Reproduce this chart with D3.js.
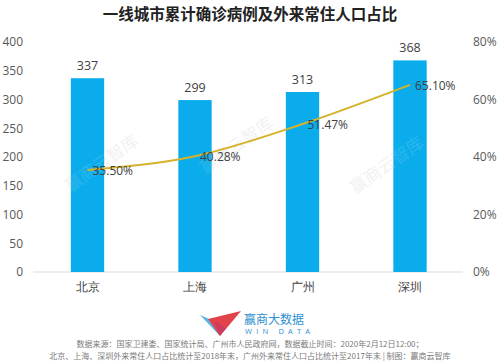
<!DOCTYPE html>
<html><head><meta charset="utf-8">
<script src="https://cdn.jsdelivr.net/npm/d3@7"></script>
<style>body{margin:0;background:#fff;}svg{display:block;font-family:"Noto Sans CJK SC","Noto Sans",sans-serif;}</style>
</head><body>
<svg id="c" width="500" height="363"></svg>
<script>
const categories = ["北京","上海","广州","深圳"];
const cases = [337, 299, 313, 368];
const shares = [35.50, 40.28, 51.47, 65.10];
const leftTicks = [0,50,100,150,200,250,300,350,400];
const rightTicks = [0,20,40,60,80];

const svg = d3.select("#c");
const x = d3.scaleBand().domain(categories).range([33.75, 463.75]).paddingInner(0.69).paddingOuter(0.345);
const yL = d3.scaleLinear().domain([0,400]).range([272,42]);
const yR = d3.scaleLinear().domain([0,80]).range([272,42]);

// title
svg.append("text").attr("x",250).attr("y",20).attr("text-anchor","middle")
  .attr("font-size",15.5).attr("font-weight","bold").attr("fill","#222")
  .text("一线城市累计确诊病例及外来常住人口占比");

// axis baseline
svg.append("line").attr("x1",33).attr("x2",463).attr("y1",yL(0)).attr("y2",yL(0))
  .attr("stroke","#d9d9d9").attr("stroke-width",1);

// left axis
const la = svg.append("g").attr("transform","translate(23,0)")
  .call(d3.axisLeft(yL).tickValues(leftTicks).tickSize(0).tickPadding(0));
la.select(".domain").remove();
la.selectAll("text").attr("font-size",12).attr("fill","#595959").attr("font-family","'Open Sans','Noto Sans',sans-serif");

// right axis
const ra = svg.append("g").attr("transform","translate(473,0)")
  .call(d3.axisRight(yR).tickValues(rightTicks).tickFormat(d=>d+"%").tickSize(0).tickPadding(0));
ra.select(".domain").remove();
ra.selectAll("text").attr("font-size",12).attr("fill","#595959").attr("font-family","'Open Sans','Noto Sans',sans-serif");

// watermarks
const wm = [[105,168],[240,150],[390,170]];
svg.append("g").selectAll("text").data(wm).join("text")
  .attr("transform",d=>`translate(${d[0]},${d[1]}) rotate(-35)`)
  .attr("text-anchor","middle").attr("font-size",17).attr("fill","#000").attr("opacity",0.06)
  .text("赢商云智库");

// bars
svg.append("g").selectAll("rect").data(categories).join("rect")
  .attr("x",d=>x(d)).attr("width",x.bandwidth())
  .attr("y",(d,i)=>yL(cases[i])).attr("height",(d,i)=>yL(0)-yL(cases[i]))
  .attr("fill","#0aaceb");

// bar labels
svg.append("g").selectAll("text").data(categories).join("text")
  .attr("x",d=>x(d)+x.bandwidth()/2).attr("y",(d,i)=>yL(cases[i])-8)
  .attr("text-anchor","middle").attr("font-size",12.5).attr("fill","#404040")
  .attr("font-family","'Open Sans','Noto Sans',sans-serif")
  .text((d,i)=>cases[i]);

// watermarks over bars (faint white)
svg.append("g").selectAll("text").data(wm).join("text")
  .attr("transform",d=>`translate(${d[0]},${d[1]}) rotate(-35)`)
  .attr("text-anchor","middle").attr("font-size",17).attr("fill","#fff").attr("opacity",0.12)
  .text("赢商云智库");

// line
const pts = categories.map((c,i)=>[x(c)+x.bandwidth()/2, yR(shares[i])]);
svg.append("path").datum(pts)
  .attr("d", d3.line().curve(d3.curveMonotoneX))
  .attr("fill","none").attr("stroke","#d4b32a").attr("stroke-width",2);

svg.append("g").selectAll("text").data(categories).join("text")
  .attr("x",(d,i)=>pts[i][0]+5).attr("y",(d,i)=>pts[i][1]+5)
  .attr("font-size",12).attr("fill","#404040")
  .attr("font-family","'Open Sans','Noto Sans',sans-serif")
  .text((d,i)=>shares[i].toFixed(2)+"%");

// category labels
const xa = svg.append("g").attr("transform","translate(0,282)")
  .call(d3.axisBottom(x).tickSize(0).tickPadding(0));
xa.select(".domain").remove();
xa.selectAll("text").attr("font-size",12).attr("fill","#404040").attr("dy","0.75em");

// logo
const lg = svg.append("g").attr("transform","translate(200,309)");
lg.append("path").attr("d","M0,6 L14,12 L20,27 Z").attr("fill","#5ab4e6");
lg.append("path").attr("d","M8,10 L20,27 L41,2 Z").attr("fill","#e2434b");
lg.append("path").attr("d","M14,12 L20,27 L26,19 Z").attr("fill","#b83a6a").attr("opacity",0.6);
svg.append("text").attr("x",244).attr("y",324).attr("font-size",12).attr("fill","#2f8fcf").text("赢商大数据");
svg.append("text").attr("x",245).attr("y",334).attr("font-size",7.5).attr("fill","#2f8fcf")
  .attr("letter-spacing",4.2).attr("font-family","'Open Sans',sans-serif").text("WIN DATA");

// source
svg.append("text").attr("x",250).attr("y",347).attr("text-anchor","middle").attr("font-size",8).attr("fill","#7a7a7a")
  .text("数据来源：国家卫建委、国家统计局、广州市人民政府网，数据截止时间：2020年2月12日12:00；");
svg.append("text").attr("x",250).attr("y",359).attr("text-anchor","middle").attr("font-size",8).attr("fill","#7a7a7a")
  .text("北京、上海、深圳外来常住人口占比统计至2018年末，广州外来常住人口占比统计至2017年末 | 制图：赢商云智库");
</script>
</body></html>
